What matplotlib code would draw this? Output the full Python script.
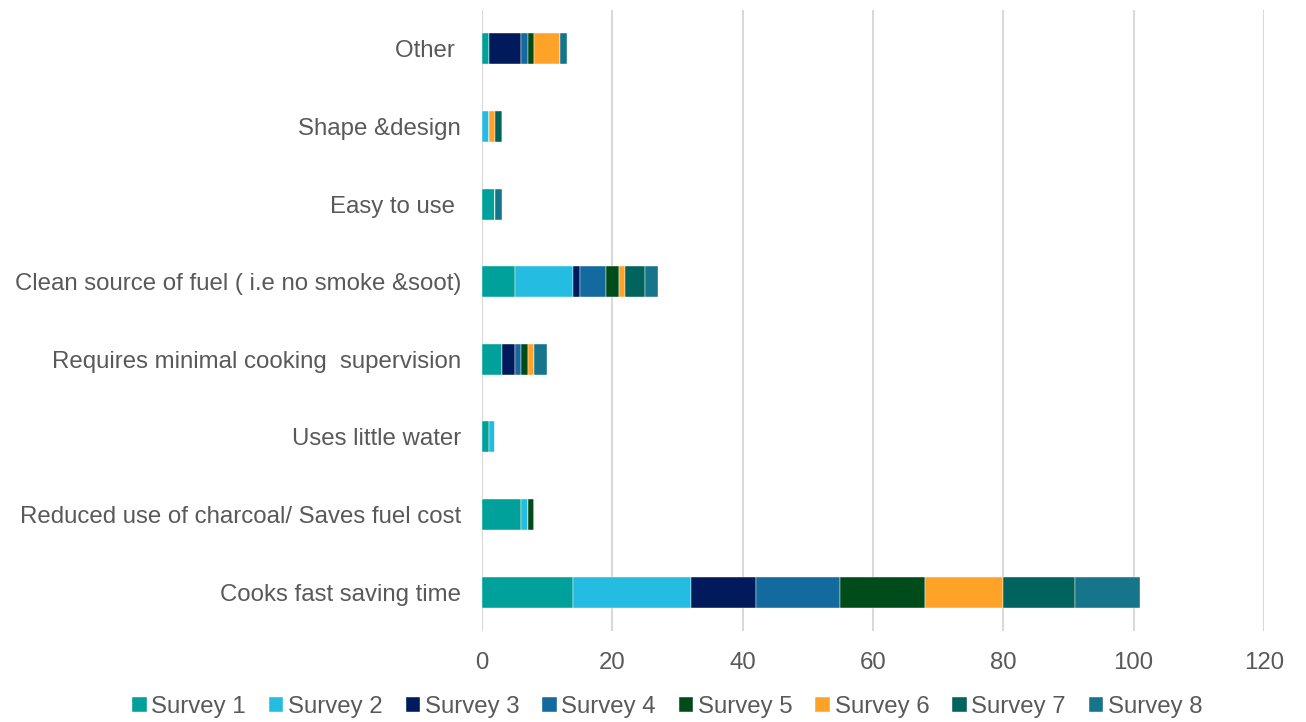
import matplotlib
matplotlib.use("Agg")
import matplotlib.pyplot as plt
import numpy as np

categories = [
    "Cooks fast saving time",
    "Reduced use of charcoal/ Saves fuel cost",
    "Uses little water",
    "Requires minimal cooking  supervision",
    "Clean source of fuel ( i.e no smoke &soot)",
    "Easy to use ",
    "Shape &design",
    "Other ",
]
series_names = ["Survey 1", "Survey 2", "Survey 3", "Survey 4",
                "Survey 5", "Survey 6", "Survey 7", "Survey 8"]
survey1 = [14, 6, 1, 3, 5, 2, 0, 1]
survey2 = [18, 1, 1, 0, 9, 0, 1, 0]
survey3 = [10, 0, 0, 2, 1, 0, 0, 5]
survey4 = [13, 0, 0, 1, 4, 0, 0, 1]
survey5 = [13, 1, 0, 1, 2, 0, 0, 1]
survey6 = [12, 0, 0, 1, 1, 0, 1, 4]
survey7 = [11, 0, 0, 0, 3, 0, 1, 0]
survey8 = [10, 0, 0, 2, 2, 1, 0, 1]
colors = ["#00a19a", "#25bce2", "#001a5c", "#136a9e",
          "#004b1a", "#ffa328", "#00635e", "#16748b"]

data = [survey1, survey2, survey3, survey4, survey5, survey6, survey7, survey8]

plt.rcParams['font.family'] = ['Liberation Sans', 'DejaVu Sans']
txt = "#595959"

fig = plt.figure(figsize=(13.06, 7.22), dpi=100)
ax = fig.add_axes([482/1306, 1 - 631/722, (1264 - 482)/1306, (631 - 10)/722])

y = np.arange(len(categories))
left = np.zeros(len(categories))
for name, vals, c in zip(series_names, data, colors):
    vals = np.array(vals, dtype=float)
    ax.barh(y, vals, left=left, height=0.4, color=c, label=name,
            edgecolor="white", linewidth=0.3, zorder=3)
    left += vals

ax.set_xlim(0, 120)
ax.set_ylim(-0.5, len(categories) - 0.5)
ax.set_xticks(np.arange(0, 121, 20))
ax.set_yticks(y)
ax.set_yticklabels(categories)
ax.grid(axis="x", color="#d9d9d9", linewidth=1.5, zorder=0)
ax.set_axisbelow(True)
for s in ax.spines.values():
    s.set_visible(False)
ax.tick_params(axis="both", length=0, labelsize=17.3, colors=txt)
ax.tick_params(axis="x", pad=15)
ax.tick_params(axis="y", pad=15)

fig.legend(loc="lower center", bbox_to_anchor=(0.511, -0.024), ncol=8,
           frameon=False, fontsize=17.3, labelcolor=txt,
           handlelength=0.6, handleheight=0.6, handletextpad=0.2,
           columnspacing=0.95)

fig.savefig("out.png", dpi=100)
